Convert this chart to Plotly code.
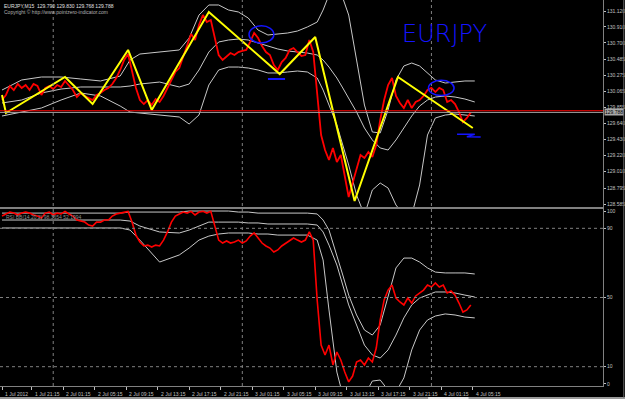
import plotly.graph_objects as go

# ---------------- data ----------------
symbol = "EURJPY,M15"
last_ohlc = ["129.790", "129.830", "129.768", "129.788"]
copyright_text = "Copyright © http://www.pointzero-indicator.com"
osc_label = "RSI BB(14,20,2) 98.3654 52.1994"

# close price, one value every 2 bars (M15)
closes = [
    129.951, 130.017, 130.135, 130.082, 130.161, 130.109, 130.148, 130.082, 130.161, 130.135,
    130.017, 130.109, 130.135, 130.095, 130.148, 130.122, 130.201, 130.135, 130.082, 129.990,
    130.043, 130.004, 129.977, 129.951, 130.017, 130.043, 130.082, 130.109, 130.161, 130.240,
    130.345, 130.476, 130.555, 130.319, 130.109, 129.951, 129.898, 129.951, 129.885, 129.964,
    129.925, 130.004, 130.109, 130.214, 130.319, 130.371, 130.529, 130.673, 130.818, 130.739,
    130.936, 131.067, 130.975, 131.002, 130.765, 130.542, 130.476, 130.529, 130.568, 130.542,
    130.581, 130.595, 130.608, 130.713, 130.831, 130.765, 130.660, 130.581, 130.542, 130.411,
    130.345, 130.450, 130.503, 130.608, 130.634, 130.581, 130.529, 130.542, 130.739, 130.581,
    130.017, 129.491, 129.294, 129.163, 129.321, 129.137, 129.229, 128.966, 128.677, 128.861,
    129.032, 129.229, 129.189, 129.268, 129.202, 129.360, 129.688, 129.951, 130.148, 130.240,
    130.004, 129.912, 129.846, 129.951, 129.846, 129.925, 129.951, 130.004, 130.082, 130.109,
    130.056, 130.109, 130.082, 129.925, 129.951, 129.898, 129.793, 129.662, 129.715, 129.788,
]
close_idx = list(range(0, 2 * len(closes), 2))

band_idx = [0, 10, 20, 30, 40, 50, 60, 65, 70, 80, 90, 95, 100, 105, 110, 115, 120, 125, 130,
            135, 140, 145, 150, 155, 160, 163, 166, 170, 173, 176, 180, 184, 188, 192, 196,
            200, 204, 208, 212, 216, 220, 225, 230, 235, 240]
bb_upper = [130.082, 130.214, 130.253, 130.253, 130.227, 130.201, 130.266, 130.476, 130.555,
            130.581, 130.608, 130.765, 131.067, 131.199, 131.199, 131.133, 131.107, 131.028,
            130.870, 130.805, 130.818, 130.831, 130.857, 130.910, 130.975, 131.133, 131.330,
            131.396, 131.291, 131.067, 130.476, 129.885, 129.531, 129.518, 129.820, 130.214,
            130.398, 130.437, 130.398, 130.306, 130.214, 130.174, 130.187, 130.201, 130.201]
bb_middle = [129.912, 129.951, 130.043, 130.095, 130.122, 130.122, 130.122, 130.135, 130.161,
             130.187, 130.122, 130.161, 130.345, 130.581, 130.713, 130.739, 130.752, 130.739,
             130.700, 130.660, 130.621, 130.595, 130.581, 130.568, 130.542, 130.476, 130.384,
             130.240, 130.109, 129.977, 129.793, 129.583, 129.426, 129.321, 129.294, 129.426,
             129.583, 129.741, 129.872, 129.951, 129.990, 130.004, 129.990, 129.964, 129.925]
bb_lower = [129.741, 129.793, 129.846, 129.951, 130.043, 130.004, 129.872, 129.793, 129.780,
            129.754, 129.728, 129.636, 129.754, 130.148, 130.345, 130.384, 130.384, 130.371,
            130.345, 130.306, 130.306, 130.319, 130.332, 130.319, 130.240, 130.082, 129.885,
            129.623, 129.360, 129.097, 128.703, 128.440, 128.769, 128.861, 128.795, 128.572,
            128.440, 128.440, 128.835, 129.491, 129.715, 129.754, 129.767, 129.754, 129.741]

zz_idx = [0, 2, 32, 46, 64, 76, 105, 141, 159, 179, 201, 239]
zz_price = [130.017, 129.780, 130.253, 129.898, 130.608, 129.820, 131.107, 130.292,
            130.778, 128.624, 130.253, 129.583]

osc = [
    97.1, 98.3, 99.4, 98.8, 97.7, 98.8, 99.4, 98.8, 97.7, 97.1,
    96.0, 98.8, 99.4, 97.7, 98.8, 98.3, 99.8, 98.3, 97.1, 94.8,
    94.2, 93.6, 91.9, 91.3, 93.6, 93.6, 94.8, 94.8, 97.1, 98.3,
    98.8, 99.4, 99.8, 93.6, 86.1, 82.1, 79.8, 80.3, 79.2, 80.3,
    79.8, 83.2, 87.9, 93.6, 97.1, 98.3, 99.4, 98.8, 99.8, 97.7,
    99.4, 99.8, 98.8, 99.8, 91.9, 83.2, 81.5, 82.7, 81.5, 82.1,
    83.2, 81.5, 82.7, 85.5, 87.3, 84.4, 81.5, 79.8, 78.6, 76.3,
    77.5, 79.8, 81.5, 83.2, 84.4, 83.2, 82.1, 83.2, 87.9, 83.2,
    48.6, 22.5, 16.8, 22.5, 11.0, 18.5, 13.9, 6.9, 1.2, 4.6,
    12.7, 13.9, 11.0, 15.0, 12.7, 20.8, 37.0, 48.6, 54.3, 57.2,
    49.7, 47.4, 45.7, 49.7, 46.8, 50.9, 52.6, 54.3, 57.2, 56.1,
    58.4, 56.1, 57.2, 52.6, 53.8, 51.4, 46.8, 41.6, 42.8, 45.7,
]
osc_upper = [98.8, 98.8, 98.8, 98.8, 98.8, 98.8, 98.8, 99.4, 99.4, 99.4, 99.4, 100.0, 100.0,
             100.0, 100.0, 100.0, 99.4, 99.4, 98.8, 98.8, 98.8, 98.8, 98.8, 98.8, 98.3, 94.8,
             89.0, 74.6, 63.0, 51.4, 39.9, 31.2, 28.3, 34.1, 51.4, 67.1, 72.8, 72.8, 70.5,
             67.1, 64.7, 64.2, 64.2, 64.2, 63.6]
osc_middle = [94.8, 94.8, 94.8, 94.8, 94.8, 94.8, 94.8, 94.2, 91.3, 87.9, 87.3, 89.0, 91.3,
              93.6, 93.6, 93.6, 93.6, 93.1, 93.1, 92.5, 92.5, 92.5, 92.5, 92.5, 91.9, 87.9,
              80.3, 68.8, 57.2, 45.7, 34.1, 22.5, 16.8, 15.0, 19.7, 28.3, 38.2, 45.7, 49.7,
              51.4, 53.2, 53.2, 52.6, 51.4, 50.3]
osc_lower = [90.2, 90.2, 90.2, 90.2, 90.2, 90.2, 90.2, 89.0, 83.2, 70.5, 74.6, 78.6, 83.2,
             85.5, 86.7, 87.3, 87.3, 87.3, 86.7, 86.7, 86.1, 86.1, 86.1, 86.1, 83.2, 71.7,
             42.8, 6.9, -6.4, -15.0, -15.0, -6.4, 1.7, 2.3, -3.5, -4.6, 3.5, 19.7, 31.2,
             37.0, 39.3, 40.5, 39.9, 38.7, 38.2]

bid = 129.788
ask = 129.810

price_ticks = [131.120, 130.910, 130.700, 130.485, 130.275, 130.065, 129.855, 129.640,
               129.430, 129.220, 129.010, 128.795, 128.585]
osc_ticks = [100, 90, 50, 10, 0]
osc_levels = [90, 50, 10]
time_tick_idx = [0, 15, 31, 47, 63, 79, 95, 111, 127, 143, 159, 175, 191, 207, 223, 239]
time_tick_labels = ["1 Jul 2012", "1 Jul 21:15", "2 Jul 01:15", "2 Jul 05:15", "2 Jul 09:15",
                    "2 Jul 13:15", "2 Jul 17:15", "2 Jul 21:15", "3 Jul 01:15", "3 Jul 05:15",
                    "3 Jul 09:15", "3 Jul 13:15", "3 Jul 17:15", "3 Jul 21:15", "4 Jul 01:15",
                    "4 Jul 05:15"]
day_start_idx = [26, 122, 218]

# hand-drawn blue marks (bar index, price)
circle_marks = [(125.4, 138.0, 130.700, 130.925), (216.5, 229.5, 130.010, 130.210)]
underline_mark = (135.0, 143.7, 130.227)
squiggle_x = [231, 240, 236, 243]
squiggle_y = [129.500, 129.500, 129.470, 129.465]
handwriting = ("EURJPY", 224.4, 130.818)

# ---------------- figure ----------------
GRID = "#808080"
BAND = "#c8c8c8"
TXT = "#c0c0c0"
FONT = "Liberation Sans"
BLUE = "#1414ff"

fig = go.Figure()

for band in (bb_upper, bb_middle, bb_lower):
    fig.add_trace(go.Scatter(x=band_idx, y=band, mode="lines",
                             line=dict(color=BAND, width=1), xaxis="x", yaxis="y",
                             hoverinfo="skip"))
fig.add_trace(go.Scatter(x=close_idx, y=closes, mode="lines",
                         line=dict(color="#ff0000", width=1.8), xaxis="x", yaxis="y"))
fig.add_trace(go.Scatter(x=zz_idx, y=zz_price, mode="lines",
                         line=dict(color="#ffff00", width=2), xaxis="x", yaxis="y"))

for band in (osc_upper, osc_middle, osc_lower):
    fig.add_trace(go.Scatter(x=band_idx, y=band, mode="lines",
                             line=dict(color=BAND, width=1), xaxis="x2", yaxis="y2",
                             hoverinfo="skip"))
fig.add_trace(go.Scatter(x=close_idx, y=osc, mode="lines",
                         line=dict(color="#ff0000", width=1.6), xaxis="x2", yaxis="y2"))

shapes = []
# bid / ask lines
shapes.append(dict(type="line", xref="paper", yref="y", x0=0, x1=1, y0=ask, y1=ask,
                   line=dict(color="#ff0000", width=1)))
shapes.append(dict(type="line", xref="paper", yref="y", x0=0, x1=1, y0=bid, y1=bid,
                   line=dict(color="#a0a0a0", width=1)))
# day separators
for d in day_start_idx:
    shapes.append(dict(type="line", xref="x", yref="paper", x0=d, x1=d, y0=0, y1=1,
                       line=dict(color=GRID, width=1, dash="dot")))
# oscillator levels
for lv in osc_levels:
    shapes.append(dict(type="line", xref="paper", yref="y2", x0=0, x1=1, y0=lv, y1=lv,
                       line=dict(color=GRID, width=1, dash="dot")))
# blue drawings
for x0, x1, y0, y1 in circle_marks:
    shapes.append(dict(type="circle", xref="x", yref="y", x0=x0, x1=x1, y0=y0, y1=y1,
                       line=dict(color=BLUE, width=1.5)))
shapes.append(dict(type="line", xref="x", yref="y", x0=underline_mark[0], x1=underline_mark[1],
                   y0=underline_mark[2], y1=underline_mark[2],
                   line=dict(color=BLUE, width=2)))
path = "M " + " L ".join(f"{a},{b}" for a, b in zip(squiggle_x, squiggle_y))
shapes.append(dict(type="path", xref="x", yref="y", path=path,
                   line=dict(color=BLUE, width=1.5)))
# window bottom strip and right border
shapes.append(dict(type="rect", xref="paper", yref="paper", x0=-0.01, x1=1.05,
                   y0=-0.040, y1=-0.0285, fillcolor="#9a9a9a", line=dict(width=0)))
shapes.append(dict(type="rect", xref="paper", yref="paper", x0=0.71, x1=0.777,
                   y0=-0.040, y1=-0.0285, fillcolor="#e8e8e8", line=dict(width=0)))
shapes.append(dict(type="line", xref="paper", yref="paper", x0=1.0345, x1=1.0345,
                   y0=-0.03, y1=1, line=dict(color="#6a6a6a", width=1)))

annotations = []
annotations.append(dict(xref="paper", yref="paper", x=0.004, y=0.997, xanchor="left",
                        yanchor="top", showarrow=False,
                        text=symbol + "  " + " ".join(last_ohlc),
                        font=dict(family=FONT, size=5, color="#e0e0e0")))
annotations.append(dict(xref="paper", yref="paper", x=0.004, y=0.981, xanchor="left",
                        yanchor="top", showarrow=False, text=copyright_text,
                        font=dict(family=FONT, size=5, color="#b0b0b0")))
annotations.append(dict(xref="paper", yref="paper", x=0.006, y=0.452, xanchor="left",
                        yanchor="top", showarrow=False, text=osc_label,
                        font=dict(family=FONT, size=5, color="#909090")))
annotations.append(dict(xref="paper", yref="y", x=1, y=bid, xanchor="left", yanchor="middle",
                        xshift=1, showarrow=False, text=f"{bid:.3f}", bgcolor="#a8a8a8",
                        borderpad=0, font=dict(family=FONT, size=5, color="#000000")))
for i, lab in zip(time_tick_idx, time_tick_labels):
    annotations.append(dict(xref="x2", yref="paper", x=i, y=-0.008, xanchor="left",
                            yanchor="top", xshift=1, showarrow=False, text=lab,
                            font=dict(family=FONT, size=5, color=TXT)))
annotations.append(dict(xref="x", yref="y", x=handwriting[1], y=handwriting[2],
                        xanchor="center", yanchor="middle", showarrow=False,
                        text=handwriting[0],
                        font=dict(family="DejaVu Sans", size=24, color=BLUE, weight=200)))

xr = [-1.015, 305.1]
common_axis = dict(showgrid=False, zeroline=False, showline=True, linecolor=GRID,
                   linewidth=1, mirror=True)
fig.update_layout(
    width=625, height=399,
    margin=dict(l=0, r=22, t=0, b=13),
    paper_bgcolor="#000000", plot_bgcolor="#000000",
    showlegend=False,
    xaxis=dict(domain=[0, 1], range=xr, anchor="y", showticklabels=False, ticks="",
               **common_axis),
    yaxis=dict(domain=[0.4637, 1], range=[128.5456, 131.2645], side="right", anchor="x",
               tickvals=price_ticks, ticktext=[f"{v:.3f}" for v in price_ticks],
               ticks="outside", ticklen=2, tickcolor=TXT,
               tickfont=dict(family=FONT, size=5, color=TXT), **common_axis),
    xaxis2=dict(domain=[0, 1], range=xr, anchor="y2", matches="x",
                tickvals=time_tick_idx, ticktext=[""] * len(time_tick_idx),
                ticks="outside", ticklen=3, tickcolor=TXT, **common_axis),
    yaxis2=dict(domain=[0, 0.4585], range=[-1.16, 101.16], side="right", anchor="x2",
                tickvals=osc_ticks, ticktext=[str(v) for v in osc_ticks],
                ticks="outside", ticklen=2, tickcolor=TXT,
                tickfont=dict(family=FONT, size=5, color=TXT), **common_axis),
    shapes=shapes,
    annotations=annotations,
)

fig.write_html("out.html")
